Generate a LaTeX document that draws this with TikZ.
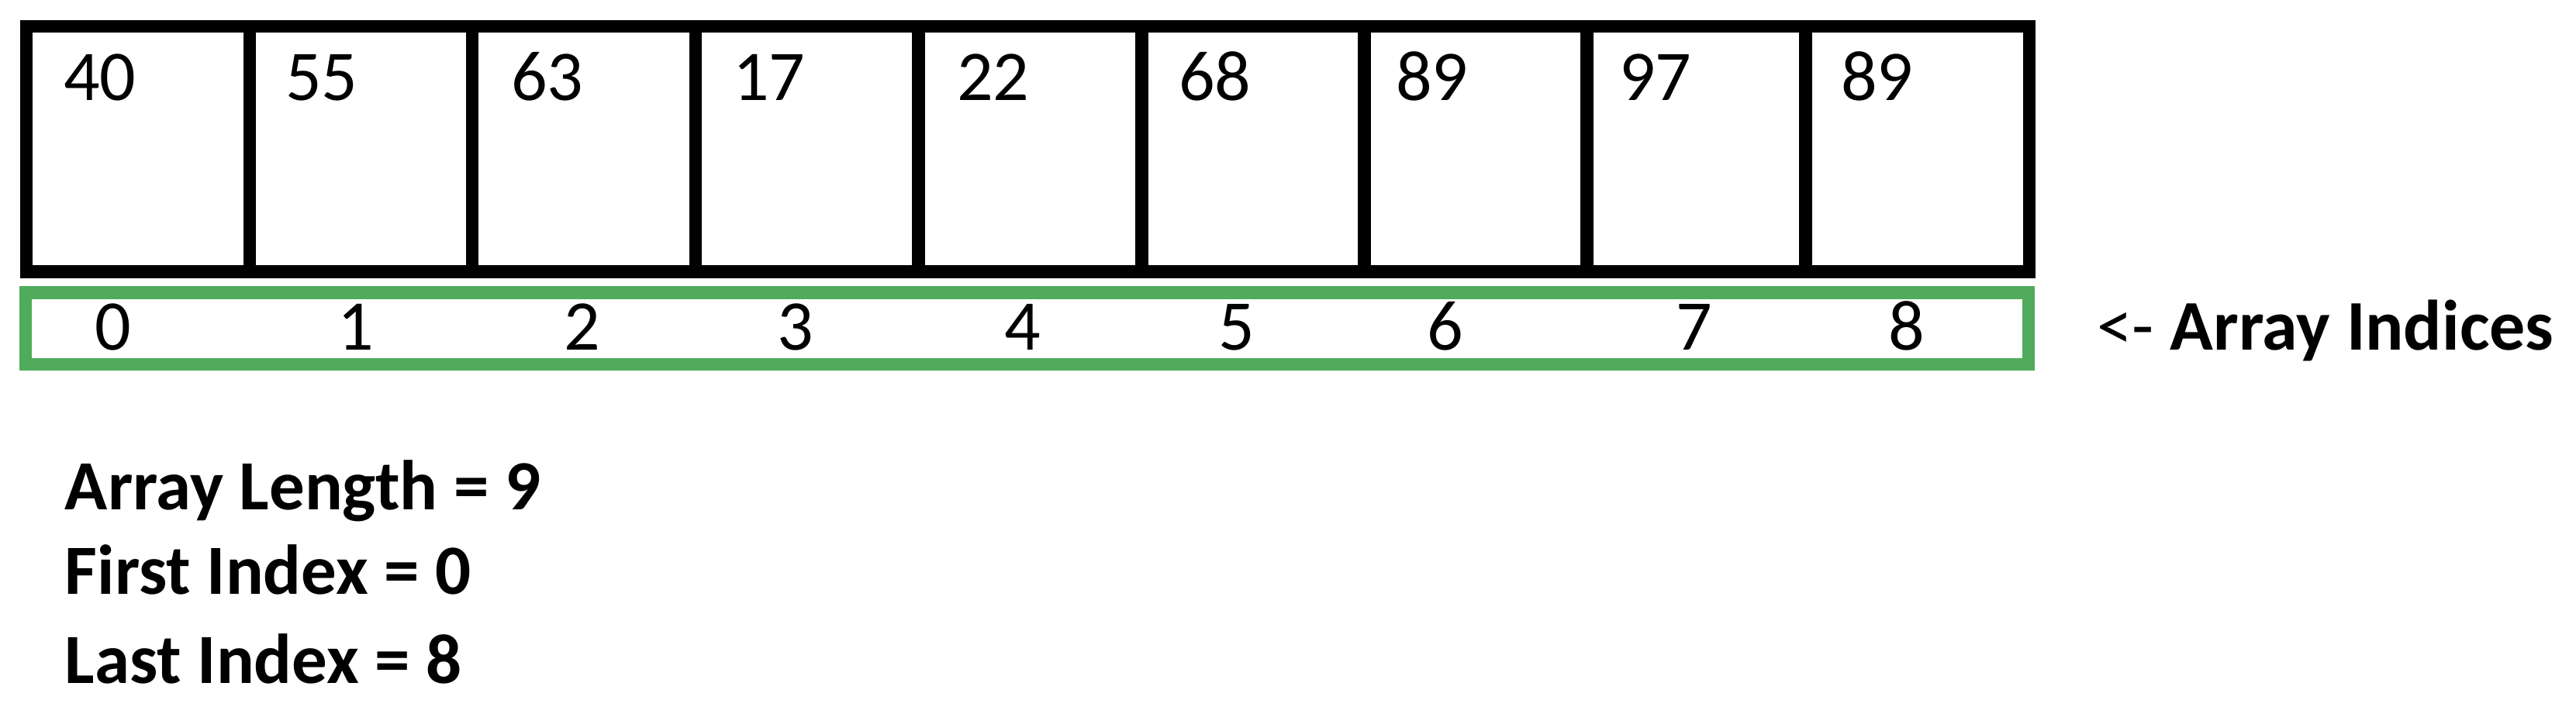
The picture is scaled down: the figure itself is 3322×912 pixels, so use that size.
\documentclass[tikz,border=0pt]{standalone}
\usepackage{fontspec}
\setmainfont{Carlito}
\definecolor{idxgreen}{RGB}{80,172,92}
\begin{document}
\begin{tikzpicture}[x=0.1pt,y=-0.1pt,
  cellline/.style={draw=black,line width=1.68pt},
  idxline/.style={draw=idxgreen,line width=1.62pt},
  val/.style={anchor=base west,inner sep=0pt,font=\fontsize{9.2pt}{11pt}\selectfont},
  idx/.style={anchor=base,inner sep=0pt,font=\fontsize{9.2pt}{11pt}\selectfont},
  info/.style={anchor=base west,inner sep=0pt,font=\fontsize{9.1pt}{11pt}\selectfont\bfseries}]
\useasboundingbox (0,0) rectangle (3322,912);
% array cells
\draw[cellline] (34,34) rectangle (2617,350.5);
\foreach \x in {322,609,897,1184.5,1472.5,1759.5,2046.5,2328.5}
  \draw[cellline] (\x,34) -- (\x,350.5);
% index box
\draw[idxline] (33,377.5) rectangle (2616,470);
% values
\node[val] (v0) at (80,130) {40};
\node[val] (v1) at (366,130) {55};
\node[val] (v2) at (657,130) {63};
\node[val] (v3) at (943,130) {17};
\node[val] (v4) at (1232,130) {22};
\node[val] (v5) at (1518,130) {68};
\node[val] (v6) at (1798,130) {89};
\node[val] (v7) at (2086,130) {97};
\node[val] (v8) at (2372,130) {89};
% indices
\node[idx] (i0) at (146,452) {0};
\node[idx] (i1) at (459,452) {1};
\node[idx] (i2) at (751,452) {2};
\node[idx] (i3) at (1026,452) {3};
\node[idx] (i4) at (1319,452) {4};
\node[idx] (i5) at (1595,452) {5};
\node[idx] (i6) at (1864,452) {6};
\node[idx] (i7) at (2185,452) {7};
\node[idx] (i8) at (2459,452) {8};
% label
\node[anchor=base west,inner sep=0pt,font=\fontsize{9.2pt}{11pt}\selectfont] (lbl) at (2702,452) {<- \textbf{Array Indices}};
% info
\node[info] (len) at (82,658) {Array Length = 9};
\node[info] (first) at (82,767) {First Index = 0};
\node[info] (last) at (82,882) {Last Index = 8};
\end{tikzpicture}
\end{document}
